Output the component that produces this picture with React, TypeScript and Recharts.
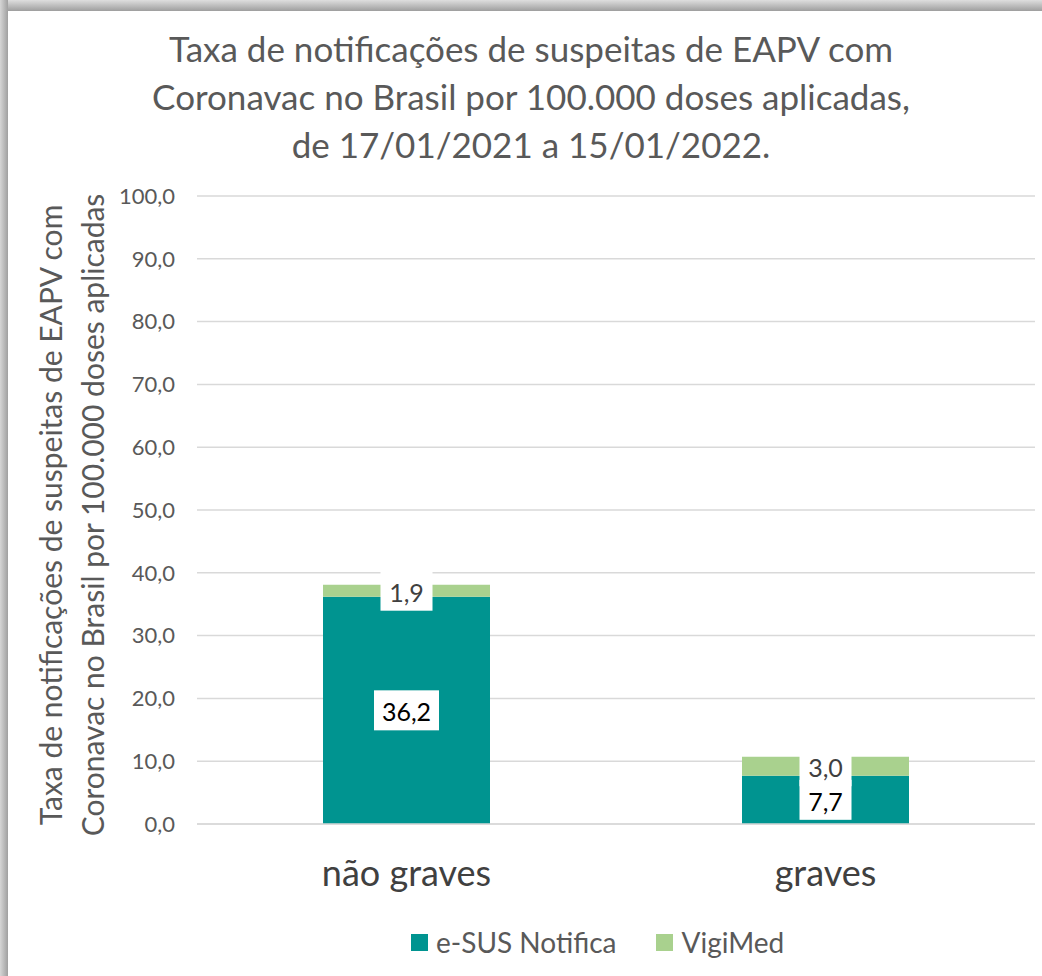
import React from 'react'
import { BarChart, Bar, XAxis, YAxis, CartesianGrid, LabelList } from 'recharts'

const categories = ['não graves', 'graves']
const esusValues = [36.2, 7.7]
const vigimedValues = [1.9, 3.0]
const yTicks = [0, 10, 20, 30, 40, 50, 60, 70, 80, 90, 100]
const titleLines = [
  'Taxa de notificações de suspeitas de EAPV com',
  'Coronavac no Brasil por 100.000 doses aplicadas,',
  'de 17/01/2021 a 15/01/2022.',
]
const yTitleLines = [
  'Taxa de notificações de suspeitas de EAPV  com',
  'Coronavac no Brasil por 100.000 doses aplicadas',
]

const TEAL = '#009490'
const GREEN = '#a9d18e'
const FONT = 'Lato, "Open Sans", sans-serif'

const fmt = (v: number) => v.toFixed(1).replace('.', ',')

const data = categories.map((name, i) => ({
  name,
  esus: esusValues[i],
  vigimed: vigimedValues[i],
}))

// white boxed data label, centred on the segment
function boxLabel(color: string) {
  return (props: any) => {
    const { x, y, width, height, value } = props
    const txt = fmt(Number(value))
    const w = txt.length * 13 + 13
    const cx = Number(x) + Number(width) / 2
    const cy = Number(y) + Number(height) / 2
    return (
      <g>
        <rect x={cx - w / 2} y={cy - 20} width={w} height={40} fill="#fff" />
        <text x={cx} y={cy + 1} textAnchor="middle" dominantBaseline="central"
          fontSize={25} fill={color} fontFamily={FONT}>
          {txt}
        </text>
      </g>
    )
  }
}

function YTitle(props: any) {
  const vb = props.viewBox || {}
  const cy = vb.y + vb.height / 2 + 5
  return (
    <g>
      {yTitleLines.map((line, i) => {
        const x = 50 + i * 42
        return (
          <text key={i} x={x} y={cy} transform={`rotate(-90 ${x} ${cy})`}
            textAnchor="middle" dominantBaseline="central"
            fontSize={30} fill="#595959" fontFamily={FONT}>
            {line}
          </text>
        )
      })}
    </g>
  )
}

export default function App() {
  return (
    <div style={{ position: 'absolute', left: 0, top: 0, width: 1042, height: 976, overflow: 'hidden', background: '#fff', fontFamily: FONT }}>
      {/* slide edge shadow, top and left */}
      <div style={{ position: 'absolute', left: 0, top: 0, width: 1042, height: 11, background: 'linear-gradient(to bottom, #dedede, #9e9e9e)' }} />
      <div style={{ position: 'absolute', left: 0, top: 0, width: 8, height: 976, background: 'linear-gradient(to right, #d6d6d6, #a0a0a0)' }} />
      <div style={{ position: 'absolute', left: 0, top: 24, width: 1062, textAlign: 'center', fontSize: 35, lineHeight: '48px', color: '#595959' }}>
        {titleLines.map((l, i) => <div key={i}>{l}</div>)}
      </div>
      <div style={{ position: 'absolute', left: 0, top: 0 }}>
        <BarChart width={1042} height={976} data={data}
          margin={{ top: 196, right: 7, bottom: 122, left: 0 }} barCategoryGap={0}>
          <CartesianGrid vertical={false} stroke="#d9d9d9" strokeWidth={1.5} />
          <XAxis dataKey="name" axisLine={{ stroke: '#d9d9d9', strokeWidth: 1.5 }} tickLine={false}
            tick={{ fontSize: 36, fill: '#404040', fontFamily: FONT }} tickMargin={30} />
          <YAxis width={197} domain={[0, 100]} ticks={yTicks} interval={0} axisLine={false} tickLine={false}
            tickFormatter={fmt} tickMargin={16}
            tick={{ fontSize: 22, fill: '#595959', fontFamily: FONT }}
            label={<YTitle />} />
          <Bar dataKey="esus" stackId="a" fill={TEAL} barSize={167} isAnimationActive={false}>
            <LabelList dataKey="esus" content={boxLabel('#000')} />
          </Bar>
          <Bar dataKey="vigimed" stackId="a" fill={GREEN} barSize={167} isAnimationActive={false}>
            <LabelList dataKey="vigimed" content={boxLabel('#404040')} />
          </Bar>
        </BarChart>
      </div>
      {/* legend */}
      <div style={{ position: 'absolute', left: 411, top: 924, display: 'flex', alignItems: 'center', fontSize: 28, color: '#595959', lineHeight: '36px' }}>
        <span style={{ width: 17, height: 17, background: TEAL, display: 'inline-block', marginRight: 8 }} />
        <span>e-SUS Notifica</span>
        <span style={{ width: 17, height: 17, background: GREEN, display: 'inline-block', marginLeft: 40, marginRight: 8 }} />
        <span>VigiMed</span>
      </div>
    </div>
  )
}
